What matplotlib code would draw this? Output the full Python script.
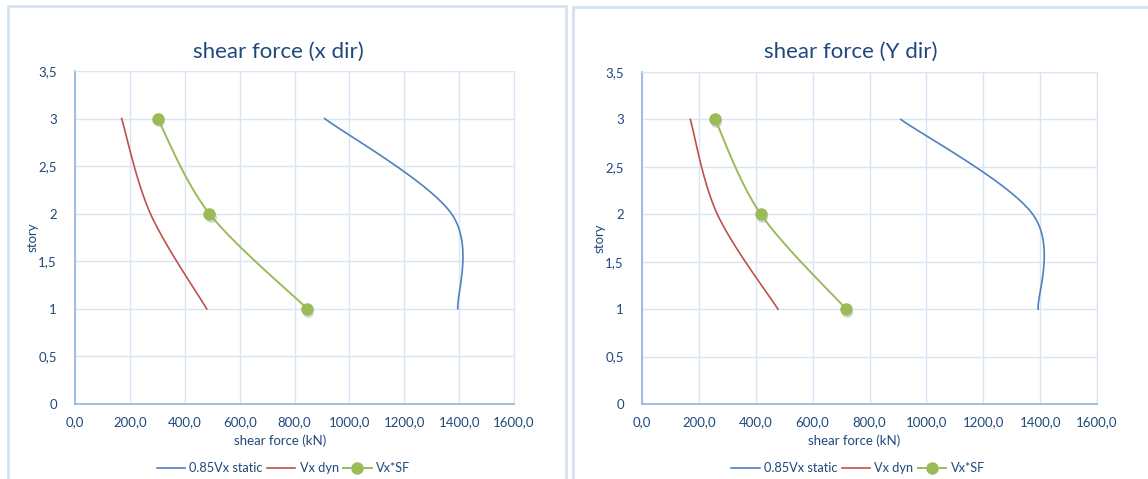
import matplotlib.pyplot as plt
import numpy as np
from matplotlib.patches import Rectangle
from matplotlib.ticker import FuncFormatter

plt.rcParams['font.family'] = ['Lato', 'DejaVu Sans']

stories = [1, 2, 3]

# x direction (kN)
x_static = [1395, 1372, 910]
x_dyn = [480, 275, 170]
x_sf = [847, 490, 301]

# y direction (kN)
y_static = [1393, 1374, 910]
y_dyn = [478, 265, 170]
y_sf = [718, 418, 257]

titles = ['shear force (x dir)', 'shear force (Y dir)']
labels = ['0.85Vx static', 'Vx dyn', 'Vx*SF']

BLUE = '#4F81BD'
RED = '#C0504D'
GREEN = '#9BBB59'
TEXT = '#1F497D'
GRID = '#D9E5F4'
AXIS = '#95B3DE'


def smooth(xs, ys, sx, sy, n=60):
    """Bezier smoothing of a polyline (office-style smoothed line)."""
    p = np.column_stack([np.asarray(xs, float) * sx, np.asarray(ys, float) * sy])
    m = len(p)
    out = []
    for i in range(m - 1):
        p0 = p[max(i - 1, 0)]
        p1, p2 = p[i], p[i + 1]
        p3 = p[min(i + 2, m - 1)]
        c1 = p1 + (p2 - p0) / 6
        c2 = p2 - (p3 - p1) / 6
        t = np.linspace(0, 1, n)[:, None]
        seg = ((1 - t) ** 3 * p1 + 3 * (1 - t) ** 2 * t * c1
               + 3 * (1 - t) * t ** 2 * c2 + t ** 3 * p2)
        out.append(seg)
    pts = np.vstack(out)
    return pts[:, 0] / sx, pts[:, 1] / sy


fig = plt.figure(figsize=(11.48, 4.79), dpi=100)

# chart panel borders
W, H = 1148, 479
for x0, y0, x1 in [(8, 6, 566), (573, 7, 1160)]:
    fig.add_artist(Rectangle((x0 / W, -0.1), (x1 - x0) / W, 1.1 - y0 / H,
                             transform=fig.transFigure, fill=False,
                             edgecolor='#D5E1F1', linewidth=2))

boxes = [(75, 514, 71, 404), (642, 1097, 72, 404)]
title_x = [278, 851]
series = [(x_static, x_dyn, x_sf), (y_static, y_dyn, y_sf)]

for k, ((l, r, t, b), (st, dy, sf)) in enumerate(zip(boxes, series)):
    ax = fig.add_axes([l / W, 1 - b / H, (r - l) / W, (b - t) / H])
    sx = (r - l) / 1600
    sy = (b - t) / 3.5

    hs = []
    for vals, col in [(st, BLUE), (dy, RED)]:
        xx, yy = smooth(vals, stories, sx, sy)
        h, = ax.plot(xx, yy, color=col, lw=1.2, zorder=3)
        hs.append(h)
    xx, yy = smooth(sf, stories, sx, sy)
    ax.plot(xx, yy, color=GREEN, lw=1.4, zorder=3)
    # marker shadows
    ax.plot(np.array(sf) + 4, np.array(stories) - 0.03, 'o', ms=8,
            color='#999999', alpha=0.35, zorder=3, mec='none')
    ax.plot(sf, stories, 'o', ms=8, color=GREEN, mec=GREEN, zorder=4)
    h, = ax.plot([], [], color=GREEN, lw=1.4, marker='o', ms=8)
    hs.append(h)

    ax.set_xlim(0, 1600)
    ax.set_ylim(0, 3.5)
    ax.set_xticks(np.arange(0, 1601, 200))
    ax.set_yticks(np.arange(0, 3.51, 0.5))
    ax.xaxis.set_major_formatter(FuncFormatter(lambda v, p: f'{v:.1f}'.replace('.', ',')))
    ax.yaxis.set_major_formatter(FuncFormatter(lambda v, p: f'{v:g}'.replace('.', ',')))
    ax.grid(True, color=GRID, lw=1)
    ax.set_axisbelow(True)
    ax.tick_params(length=0, labelsize=9.5, colors=TEXT, pad=9)
    ax.tick_params(axis='y', pad=13)
    for side in ['top', 'right']:
        ax.spines[side].set_color(GRID)
    for side in ['left', 'bottom']:
        ax.spines[side].set_color(AXIS)
        ax.spines[side].set_linewidth(1.2)

    ax.set_xlabel('shear force (kN)', color=TEXT, fontsize=9.5)
    ax.xaxis.set_label_coords(0.467, -0.092)
    ax.set_ylabel('story', color=TEXT, fontsize=9.5, labelpad=0)
    fig.text(title_x[k] / W, 1 - 52 / H, titles[k], color=TEXT, fontsize=16,
             ha='center', va='center')
    ax.legend(hs, labels, loc='upper center', bbox_to_anchor=(0.475, -0.14),
              ncol=3, frameon=False, fontsize=9.2, labelcolor=TEXT,
              handlelength=2.2, columnspacing=0.35, handletextpad=0.35)

fig.savefig('out.png', dpi=100)
